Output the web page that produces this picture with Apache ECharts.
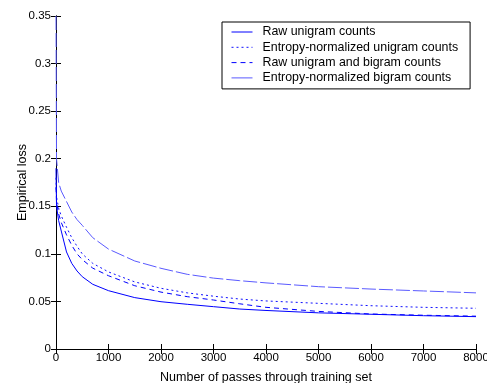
<!DOCTYPE html>
<html>
<head>
<meta charset="utf-8">
<script src="https://cdn.jsdelivr.net/npm/echarts@6/dist/echarts.min.js"></script>
<style>
  html, body { margin: 0; padding: 0; background: #fff; }
  #chart { width: 487px; height: 383px; }
</style>
</head>
<body>
<div id="chart"></div>
<script>
// passes through the training set (x values)
const passes = [0, 10, 50, 100, 200, 300, 400, 500, 700, 1000, 1500, 2000, 2500, 3000, 3500, 4000, 5000, 6000, 7000, 8000];

const rawUnigram = [0.19, 0.15, 0.135, 0.124, 0.102, 0.09, 0.082, 0.076, 0.068, 0.0613, 0.054, 0.0497, 0.047, 0.0445, 0.042, 0.0405, 0.038, 0.0365, 0.035, 0.034];
const entUnigram = [0.18, 0.16, 0.148, 0.14, 0.128, 0.117, 0.108, 0.1, 0.09, 0.081, 0.0705, 0.0638, 0.059, 0.0555, 0.0525, 0.0505, 0.048, 0.0455, 0.0438, 0.0428];
const rawBigram = [0.17, 0.155, 0.142, 0.133, 0.12, 0.109, 0.1, 0.094, 0.085, 0.077, 0.0665, 0.0598, 0.055, 0.0515, 0.0475, 0.0438, 0.0395, 0.0368, 0.0355, 0.0345];
const entBigram = [0.35, 0.2, 0.175, 0.166, 0.155, 0.144, 0.136, 0.13, 0.117, 0.105, 0.0925, 0.0848, 0.0785, 0.0745, 0.0718, 0.0695, 0.0655, 0.063, 0.061, 0.059];

const seriesNames = [
  'Raw unigram counts',
  'Entropy-normalized unigram counts',
  'Raw unigram and bigram counts',
  'Entropy-normalized bigram counts',
];

const xTicks = { min: 0, max: 8000, interval: 1000 };
const yTicks = { min: 0, max: 0.35, interval: 0.05 };

const pairs = (ys) => passes.map((x, i) => [x, ys[i]]);

const chart = echarts.init(document.getElementById('chart'));

const axisLine = { show: true, lineStyle: { color: '#000', width: 1 } };
const tick = { show: true, inside: true, length: 5, lineStyle: { color: '#000' } };
const plain = (v) => String(+v.toFixed(4));

const mkLine = (name, ys, color, type) => ({
  name: name,
  type: 'line',
  data: pairs(ys),
  symbol: 'none',
  silent: true,
  lineStyle: { color: color, width: 1, type: type },
  itemStyle: { color: color },
});

const option = {
  animation: false,
  backgroundColor: '#fff',
  textStyle: { fontFamily: 'Liberation Sans, Arial, sans-serif' },
  grid: { left: 56, right: 11, top: 16, bottom: 34, outerBoundsMode: 'none' },
  legend: {
    orient: 'vertical',
    left: 222,
    top: 22,
    padding: [4, 12, 5, 9],
    itemWidth: 21,
    itemHeight: 12,
    itemGap: 3.3,
    backgroundColor: '#fff',
    borderColor: '#000',
    borderWidth: 1,
    borderRadius: 0,
    itemStyle: { opacity: 0 },
    lineStyle: { width: 1 },
    textStyle: { color: '#000', fontSize: 12.4, padding: [0, 0, 0, 5] },
    data: [
      { name: seriesNames[0] },
      { name: seriesNames[1] },
      { name: seriesNames[2] },
      { name: seriesNames[3], lineStyle: { type: 'solid', width: 1 } },
    ],
  },
  xAxis: [
    {
      type: 'value',
      min: xTicks.min, max: xTicks.max, interval: xTicks.interval,
      name: 'Number of passes through training set',
      nameLocation: 'middle',
      nameGap: 22,
      nameMoveOverlap: false,
      nameTextStyle: { color: '#000', fontSize: 12.5 },
      axisLine: axisLine,
      axisTick: tick,
      splitLine: { show: false },
      axisLabel: { color: '#000', fontSize: 11.5, margin: 3, formatter: plain },
    },
    {
      type: 'value',
      position: 'top',
      min: xTicks.min, max: xTicks.max, interval: xTicks.interval,
      axisLine: axisLine,
      axisTick: tick,
      splitLine: { show: false },
      axisLabel: { show: false },
    },
  ],
  yAxis: [
    {
      type: 'value',
      min: yTicks.min, max: yTicks.max, interval: yTicks.interval,
      name: 'Empirical loss',
      nameLocation: 'middle',
      nameGap: 27,
      nameMoveOverlap: false,
      nameTextStyle: { color: '#000', fontSize: 12.5 },
      axisLine: axisLine,
      axisTick: tick,
      splitLine: { show: false },
      axisLabel: { color: '#000', fontSize: 11.5, margin: 5, formatter: plain },
    },
    {
      type: 'value',
      position: 'right',
      min: yTicks.min, max: yTicks.max, interval: yTicks.interval,
      axisLine: axisLine,
      axisTick: tick,
      splitLine: { show: false },
      axisLabel: { show: false },
    },
  ],
  series: [
    mkLine(seriesNames[0], rawUnigram, '#0000ff', 'solid'),
    mkLine(seriesNames[1], entUnigram, '#1010ff', [2, 3]),
    mkLine(seriesNames[2], rawBigram, '#0000ff', [5, 4]),
    mkLine(seriesNames[3], entBigram, '#5a5aff', [14, 3]),
  ],
};

chart.setOption(option);
</script>
</body>
</html>
